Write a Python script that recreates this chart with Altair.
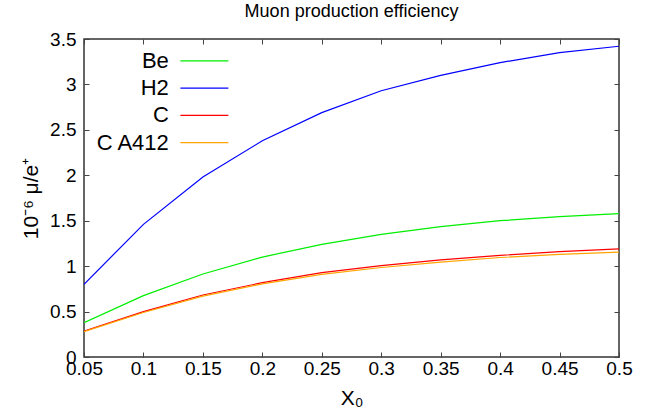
import altair as alt
import pandas as pd

# ---- data ----
x0 = [0.05, 0.10, 0.15, 0.20, 0.25, 0.30, 0.35, 0.40, 0.45, 0.50]
be = [0.378, 0.675, 0.913, 1.10, 1.24, 1.35, 1.434, 1.50, 1.544, 1.578]
h2 = [0.80, 1.46, 1.98, 2.38, 2.69, 2.93, 3.10, 3.24, 3.35, 3.42]
c = [0.286, 0.499, 0.682, 0.818, 0.928, 1.005, 1.068, 1.119, 1.159, 1.189]
c_a412 = [0.280, 0.490, 0.670, 0.805, 0.910, 0.985, 1.045, 1.095, 1.130, 1.155]

series_names = ["Be", "H2", "C", "C A412"]
series_colors = ["#00ee00", "#0000ff", "#ff0000", "#ffa500"]
x_ticks = [0.05, 0.1, 0.15, 0.2, 0.25, 0.3, 0.35, 0.4, 0.45, 0.5]
y_ticks = [0, 0.5, 1, 1.5, 2, 2.5, 3, 3.5]

rows = []
for name, vals in zip(series_names, [be, h2, c, c_a412]):
    for xv, yv in zip(x0, vals):
        rows.append({"x": xv, "y": yv, "series": name})
df = pd.DataFrame(rows)

W, H = 535, 318
FONT = "Liberation Sans"

xscale = alt.Scale(domain=[0.05, 0.5], nice=False, zero=False)
yscale = alt.Scale(domain=[0, 3.5], nice=False, zero=False)

lines = alt.Chart(df).mark_line(strokeWidth=1.2, clip=True).encode(
    x=alt.X("x:Q", scale=xscale,
            axis=alt.Axis(orient="bottom", values=x_ticks, format="~g", ticks=False,
                          domain=False, grid=False, title="X₀", labelPadding=2,
                          labelFlush=False, titlePadding=9)),
    y=alt.Y("y:Q", scale=yscale,
            axis=alt.Axis(orient="left", values=y_ticks, format="~g", ticks=False,
                          domain=False, grid=False, title="10⁻⁶ μ/e⁺", labelPadding=8,
                          labelFlush=False, titlePadding=8)),
    color=alt.Color("series:N", scale=alt.Scale(domain=series_names, range=series_colors),
                    legend=alt.Legend(orient="none", legendX=109.4, legendY=10.8, title=None,
                                      symbolType="M-4,0H4", symbolSize=144,
                                      symbolStrokeWidth=1.2, labelAlign="right",
                                      labelOffset={"expr": "-46.6"}, labelFontSize=22,
                                      labelFont=FONT, labelColor="black",
                                      rowPadding=5.3, padding=0, labelLimit=0)),
    detail="series:N",
)

tick_axis = dict(ticks=True, tickSize=5, labels=False, domain=False, grid=False,
                 title=None, tickColor="#444", tickWidth=1)

ticks_a = alt.Chart(df).mark_point(opacity=0).encode(
    x=alt.X("x:Q", scale=xscale, axis=alt.Axis(orient="top", offset=-H, values=x_ticks, **tick_axis)),
    y=alt.Y("y:Q", scale=yscale, axis=alt.Axis(orient="right", offset=-W, values=y_ticks, **tick_axis)),
)
ticks_b = alt.Chart(df).mark_point(opacity=0).encode(
    x=alt.X("x:Q", scale=xscale, axis=alt.Axis(orient="bottom", offset=-H, values=x_ticks, **tick_axis)),
    y=alt.Y("y:Q", scale=yscale, axis=alt.Axis(orient="left", offset=-W, values=y_ticks, **tick_axis)),
)

chart = alt.layer(lines, ticks_a, ticks_b).resolve_axis(
    x="independent", y="independent"
).properties(
    width=W, height=H,
    title=alt.TitleParams("Muon production efficiency", fontSize=18, font=FONT,
                          fontWeight="normal", color="black", anchor="middle", offset=9),
    autosize="none",
    padding={"left": 84, "top": 39, "right": 35, "bottom": 61},
).configure_view(
    stroke="#333", strokeWidth=1.5
).configure_axis(
    labelFont=FONT, labelFontSize=19, labelColor="black",
    titleFont=FONT, titleFontSize=21, titleFontWeight="normal", titleColor="black",
)

chart.save("out.html", embed_options={"renderer": "svg", "actions": False})
